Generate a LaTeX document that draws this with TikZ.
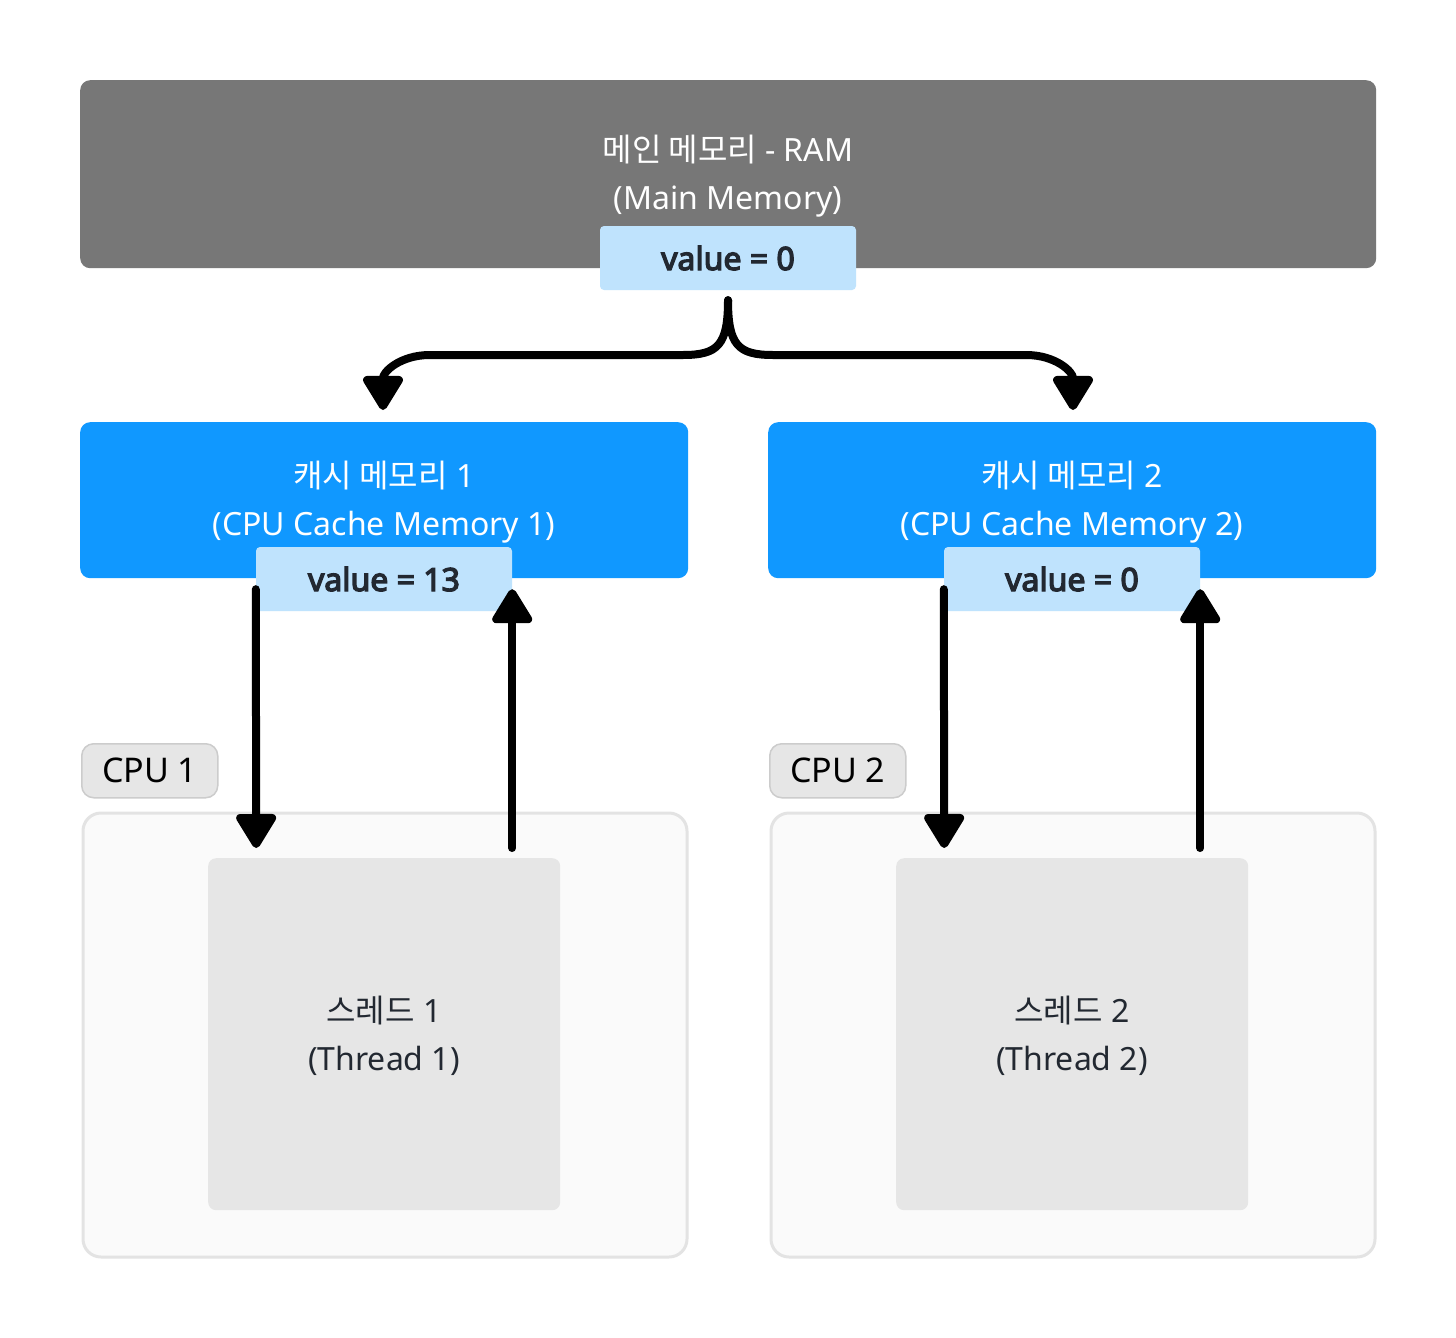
\documentclass[tikz,border=0pt]{standalone}
\usepackage{fontspec}
\setmainfont{Noto Sans}
\newfontfamily\kr{Noto Sans CJK KR}
\newfontfamily\valfont{Noto Sans}[FakeBold=4]
\usetikzlibrary{arrows.meta,calc}
\definecolor{ramgray}{HTML}{777777}
\definecolor{cacheblue}{HTML}{1098FF}
\definecolor{valblue}{HTML}{BFE3FD}
\definecolor{darktxt}{HTML}{222831}
\definecolor{cpufill}{HTML}{FAFAFA}
\definecolor{cpuborder}{HTML}{E3E3E3}
\definecolor{threadfill}{HTML}{E6E6E6}
\definecolor{labelfill}{HTML}{E6E6E6}
\definecolor{labelborder}{HTML}{CCCCCC}
\tikzset{
  txt/.style={font=\fontsize{32}{48}\selectfont, align=center},
  rambox/.style={fill=ramgray, rounded corners=10pt, anchor=north west, inner sep=0pt},
  cachebox/.style={fill=cacheblue, rounded corners=10pt, anchor=north west, inner sep=0pt, minimum width=608pt, minimum height=156pt},
  valbox/.style={fill=valblue, rounded corners=4pt, text=darktxt, font=\fontsize{32}{38}\selectfont\valfont, minimum width=256pt, minimum height=64pt, inner sep=0pt},
  cpubox/.style={fill=cpufill, draw=cpuborder, line width=3pt, rounded corners=18pt, anchor=north west, minimum width=604pt, minimum height=444pt, inner sep=0pt},
  threadbox/.style={fill=threadfill, rounded corners=8pt, anchor=north west, minimum width=352pt, minimum height=352pt, inner sep=0pt},
  cpulabel/.style={fill=labelfill, draw=labelborder, line width=1.5pt, rounded corners=12pt, anchor=north west, minimum width=136pt, minimum height=54pt, inner sep=0pt, font=\fontsize{34}{40}\selectfont, text=black},
  flow/.style={line width=8pt, line cap=round, line join=round, -{Triangle[width=44pt,length=38pt,round]}},
}
\begin{document}
\begin{tikzpicture}[x=1pt,y=-1pt]
\useasboundingbox[fill=white] (0,0) rectangle (1456,1338);
% main memory
\node[rambox, minimum width=1296pt, minimum height=188pt] (main) at (80,80) {};
\node[txt, text=white, inner sep=0pt] (maintxt) at (728,176) {{\kr 메인 메모리} - RAM\\(Main Memory)};
\node[valbox] (v0) at (728,258) {value = 0};
% caches
\node[cachebox] (c1) at (80,422) {};
\node[cachebox] (c2) at (768,422) {};
\node[txt, text=white, inner sep=0pt] (c1txt) at (384,502) {{\kr 캐시 메모리} 1\\(CPU Cache Memory 1)};
\node[txt, text=white, inner sep=0pt] (c2txt) at (1072,502) {{\kr 캐시 메모리} 2\\(CPU Cache Memory 2)};
\node[valbox] (v1) at (384,579) {value = 13};
\node[valbox] (v2) at (1072,579) {value = 0};
% cpu boxes
\node[cpubox] (cpu1) at (81.5,811.5) {};
\node[cpubox] (cpu2) at (769.5,811.5) {};
\node[cpulabel] (l1) at (81,743) {CPU 1};
\node[cpulabel] (l2) at (769,743) {CPU 2};
\node[threadbox] (t1) at (208,858) {};
\node[threadbox] (t2) at (896,858) {};
\node[txt, text=darktxt, inner sep=0pt] (t1txt) at (384,1036) {{\kr 스레드} 1\\(Thread 1)};
\node[txt, text=darktxt, inner sep=0pt] (t2txt) at (1072,1036) {{\kr 스레드} 2\\(Thread 2)};
% brace arrows
\coordinate (bstart) at ($(v0.south)+(0,10)$);
\coordinate (b1) at (383,410);
\coordinate (b2) at (1073,410);
\draw[flow] (bstart) .. controls (728,345) and (718,355) .. (683,355) -- (430,355) .. controls (400,355) and (383,372) .. (b1);
\draw[flow] (bstart) .. controls (728,345) and (738,355) .. (773,355) -- (1026,355) .. controls (1056,355) and (1073,372) .. (b2);
% cache <-> thread arrows
\coordinate (d1s) at ($(v1.south west)+(0,-22)$);
\coordinate (d1e) at ($(t1.north)+(-128,-10)$);
\coordinate (u1s) at ($(t1.north)+(128,-10)$);
\coordinate (u1e) at ($(v1.south east)+(0,-22)$);
\coordinate (d2s) at ($(v2.south west)+(0,-22)$);
\coordinate (d2e) at ($(t2.north)+(-128,-10)$);
\coordinate (u2s) at ($(t2.north)+(128,-10)$);
\coordinate (u2e) at ($(v2.south east)+(0,-22)$);
\draw[flow] (d1s) -- (d1e);
\draw[flow] (u1s) -- (u1e);
\draw[flow] (d2s) -- (d2e);
\draw[flow] (u2s) -- (u2e);
\end{tikzpicture}
\end{document}
